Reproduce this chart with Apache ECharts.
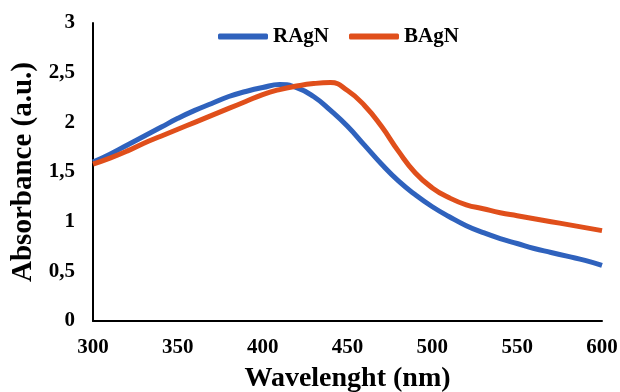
<!DOCTYPE html>
<html>
<head>
<meta charset="utf-8">
<script src="https://cdn.jsdelivr.net/npm/echarts@6/dist/echarts.min.js"></script>
<style>
html,body{margin:0;padding:0;background:#fff;}
#chart{width:620px;height:392px;}
</style>
</head>
<body>
<div id="chart"></div>
<script>
const wavelengths = [300,310,320,330,340,350,360,370,380,390,400,410,420,430,440,450,460,470,480,490,500,510,520,530,540,550,560,570,580,590,600];
const ragn = [1.60,1.68,1.77,1.86,1.95,2.04,2.12,2.19,2.26,2.31,2.35,2.38,2.35,2.26,2.12,1.96,1.77,1.58,1.41,1.27,1.15,1.05,0.96,0.89,0.83,0.78,0.73,0.69,0.65,0.61,0.56];
const bagn = [1.58,1.64,1.71,1.79,1.86,1.93,2.00,2.07,2.14,2.21,2.28,2.33,2.365,2.39,2.40,2.32,2.17,1.96,1.71,1.49,1.34,1.24,1.17,1.13,1.09,1.06,1.03,1.00,0.97,0.94,0.91];
const seriesNames = ['RAgN','BAgN'];
const xTitle = 'Wavelenght (nm)';
const yTitle = 'Absorbance (a.u.)';

const font = '"Liberation Serif", "Times New Roman", serif';
const chart = echarts.init(document.getElementById('chart'), null, {renderer:'canvas'});
chart.setOption({
  animation:false,
  backgroundColor:'#fff',
  grid:{left:93,right:18,top:23,bottom:71,containLabel:false,outerBoundsMode:'none'},
  legend:{
    data:seriesNames,
    left:213, top:21,
    icon:'roundRect',
    itemWidth:50, itemHeight:6, itemGap:20,
    textStyle:{fontFamily:font,fontWeight:'bold',fontSize:21,color:'#000'}
  },
  xAxis:{
    type:'value', min:300, max:600, interval:50,
    name:xTitle, nameLocation:'middle', nameGap:44,
    nameTextStyle:{fontFamily:font,fontWeight:'bold',fontSize:28,color:'#000'},
    axisLine:{show:true,lineStyle:{color:'#000',width:2}},
    axisTick:{show:false},
    splitLine:{show:false},
    axisLabel:{fontFamily:font,fontWeight:'bold',fontSize:21,color:'#000',margin:16}
  },
  yAxis:{
    type:'value', min:0, max:3, interval:0.5,
    name:yTitle, nameLocation:'middle', nameGap:36,
    nameTextStyle:{fontFamily:font,fontWeight:'bold',fontSize:29,color:'#000'},
    axisLine:{show:true,lineStyle:{color:'#000',width:2}},
    axisTick:{show:false},
    splitLine:{show:false},
    axisLabel:{fontFamily:font,fontWeight:'bold',fontSize:21,color:'#000',margin:18,
      formatter:v=>String(v).replace('.',',')}
  },
  series:[
    {name:seriesNames[0],type:'line',smooth:0.5,showSymbol:false,
     data:wavelengths.map((w,i)=>[w,ragn[i]]),
     lineStyle:{color:'#2F62BD',width:5},itemStyle:{color:'#2F62BD'}},
    {name:seriesNames[1],type:'line',smooth:0.5,showSymbol:false,
     data:wavelengths.map((w,i)=>[w,bagn[i]]),
     lineStyle:{color:'#E04F1B',width:5},itemStyle:{color:'#E04F1B'}}
  ]
});
</script>
</body>
</html>
